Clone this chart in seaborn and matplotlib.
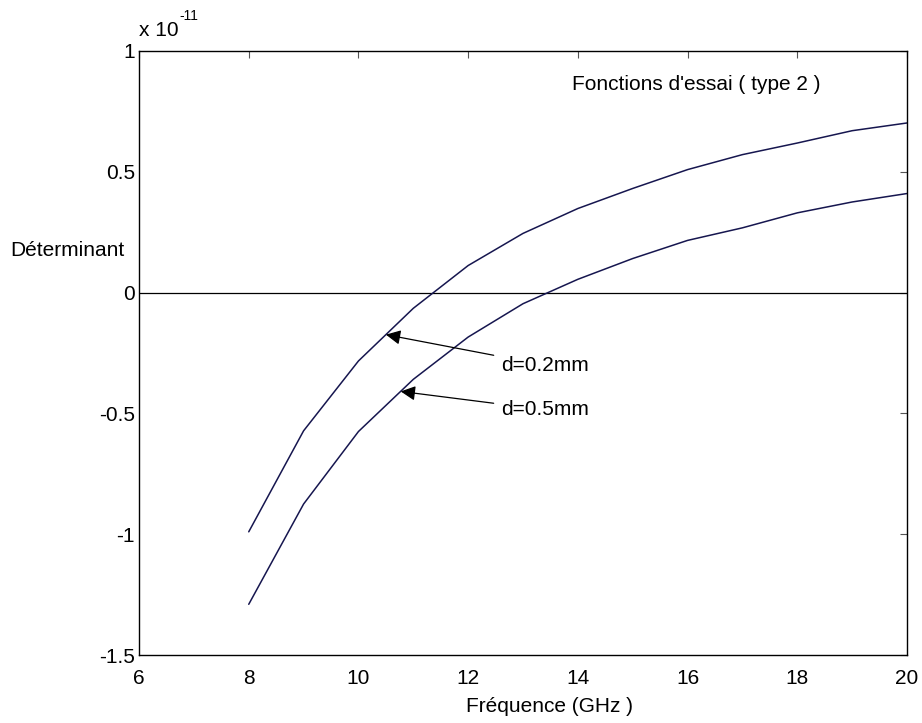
import matplotlib
matplotlib.use("Agg")
import matplotlib.pyplot as plt
import seaborn as sns
import pandas as pd

# Frequency sweep (GHz) and determinant values (units of 1e-11)
freq = [8, 9, 10, 11, 12, 13, 14, 15, 16, 17, 18, 19, 20]
det_d02 = [-0.99, -0.572, -0.283, -0.065, 0.112, 0.245, 0.348, 0.431, 0.509, 0.571, 0.619, 0.670, 0.702]
det_d05 = [-1.29, -0.875, -0.575, -0.359, -0.184, -0.046, 0.055, 0.141, 0.216, 0.268, 0.330, 0.375, 0.410]

xticks = [6, 8, 10, 12, 14, 16, 18, 20]
yticks = [-1.5, -1, -0.5, 0, 0.5, 1]
ytick_labels = ["-1.5", "-1", "-0.5", "0", "0.5", "1"]

sns.set_style("white")
plt.rcParams["font.family"] = ["Liberation Sans", "DejaVu Sans"]
plt.rcParams["text.color"] = "black"
plt.rcParams["axes.labelcolor"] = "black"
plt.rcParams["xtick.color"] = "black"
plt.rcParams["ytick.color"] = "black"

FS = 15

df = pd.DataFrame({
    "freq": freq * 2,
    "det": det_d02 + det_d05,
    "case": ["d=0.2mm"] * len(freq) + ["d=0.5mm"] * len(freq),
})

fig = plt.figure(figsize=(9.22, 7.23), dpi=100)
ax = fig.add_axes([0.1508, 0.094, 0.8329, 0.8355])

line_color = "#16164f"
sns.lineplot(data=df, x="freq", y="det", units="case", estimator=None,
             color=line_color, linewidth=1.1, ax=ax, legend=False)

ax.axhline(0, color="black", linewidth=0.9, zorder=1)

ax.set_xlim(6, 20)
ax.set_ylim(-1.5, 1)
ax.set_xticks(xticks)
ax.set_yticks(yticks)
ax.set_yticklabels(ytick_labels)
ax.tick_params(direction="in", length=5, width=0.8, color="#555555",
               labelcolor="black", top=True, right=True, labelsize=FS)
ax.tick_params(axis="y", pad=3)
ax.tick_params(axis="x", pad=10)
for sp in ax.spines.values():
    sp.set_visible(True)
    sp.set_color("black")
    sp.set_linewidth(1.0)

ax.set_xlabel("Fréquence (GHz )", fontsize=FS)
ax.xaxis.set_label_coords(0.535, -0.07)
ax.set_ylabel("")
fig.text(0.011, 0.654, "Déterminant", fontsize=FS, ha="left", va="center")

# exponent marker above the y axis
ax.text(0.0, 1.018, "x 10", transform=ax.transAxes,
        fontsize=FS, ha="left", va="bottom")
ax.text(0.0525, 1.046, "-11", transform=ax.transAxes,
        fontsize=10, ha="left", va="bottom")

ax.text(13.9, 0.862, "Fonctions d'essai ( type 2 )", fontsize=FS,
        ha="left", va="center")

arrow_style = dict(arrowstyle="-|>", color="black", lw=0.9,
                   mutation_scale=22, shrinkA=3, shrinkB=0)
ax.annotate("d=0.2mm", xy=(10.5, -0.174), xytext=(12.6, -0.3),
            fontsize=FS, ha="left", va="center", arrowprops=arrow_style)
ax.annotate("d=0.5mm", xy=(10.77, -0.409), xytext=(12.6, -0.485),
            fontsize=FS, ha="left", va="center", arrowprops=arrow_style)

fig.savefig("out.png", dpi=100, facecolor="white")
